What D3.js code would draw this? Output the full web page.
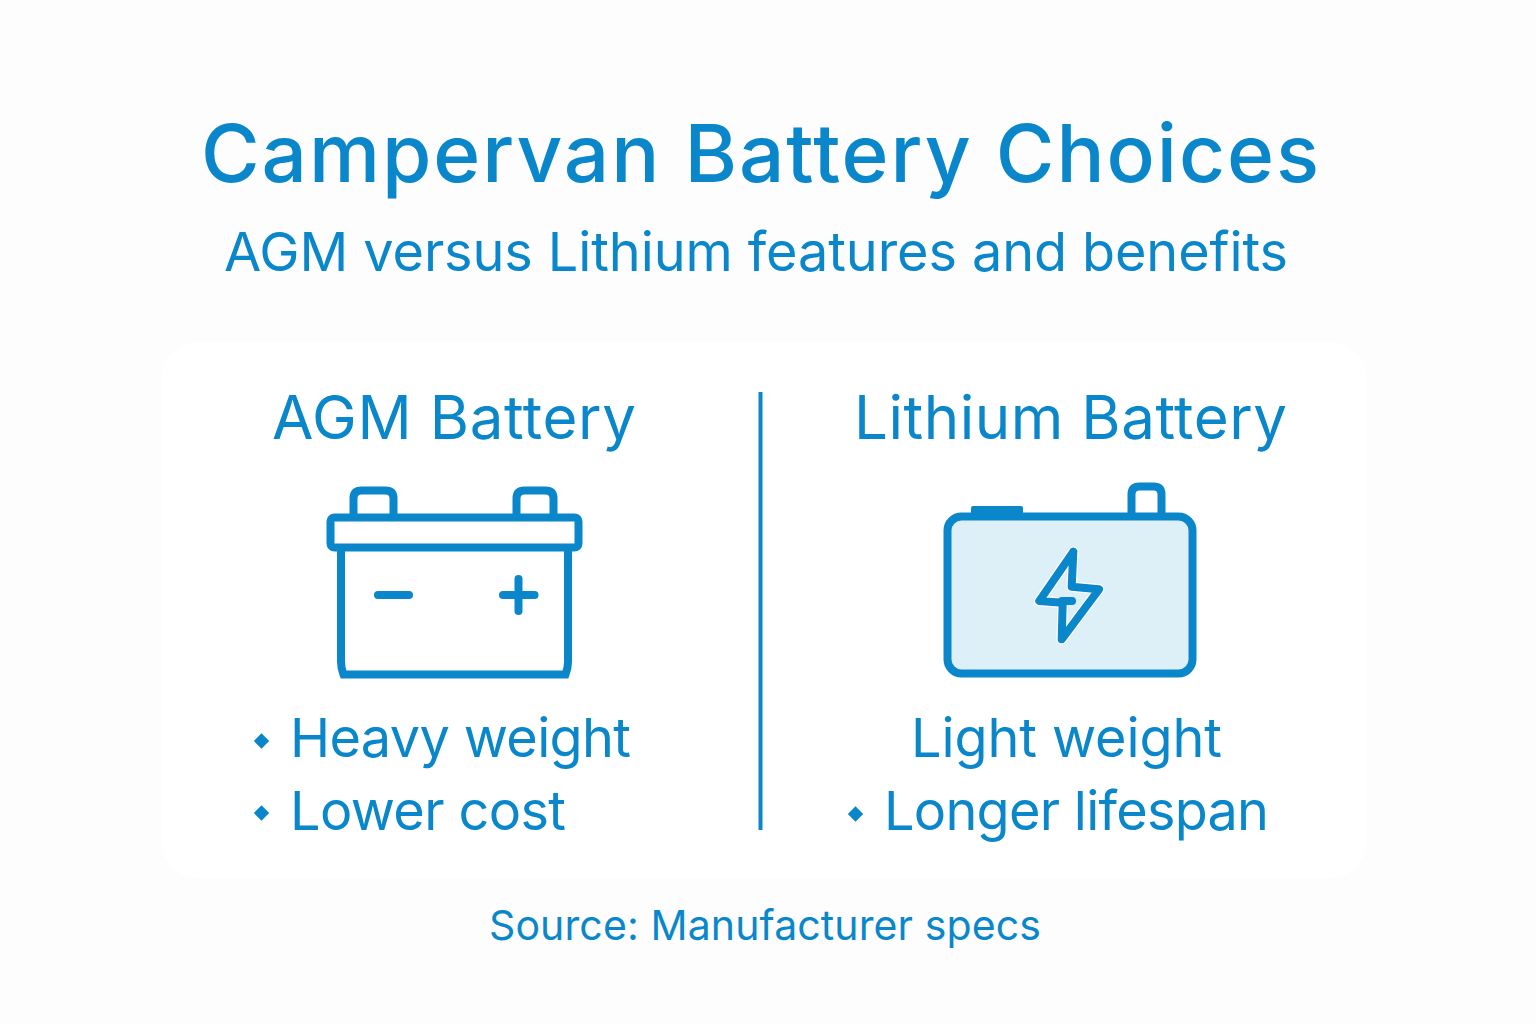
<!DOCTYPE html>
<html>
<head>
<meta charset="utf-8">
<script src="https://cdnjs.cloudflare.com/ajax/libs/d3/7.8.5/d3.min.js"></script>
<style>
html, body { margin: 0; padding: 0; background: #fdfdfd; }
svg { display: block; }
text { font-family: Inter, sans-serif; fill: #0a87ca; }
</style>
</head>
<body>
<div id="chart"></div>
<script>
// content
var titleText = 'Campervan Battery Choices';
var subtitleText = 'AGM versus Lithium features and benefits';
var columnNames = ['AGM Battery', 'Lithium Battery'];
var agmFeatures = ['Heavy weight', 'Lower cost'];
var lithiumFeatures = ['Light weight', 'Longer lifespan'];
var lithiumBullets = [false, true];
var sourceText = 'Source: Manufacturer specs';

var blue = '#0a87ca';
var sw = 8;
var svg = d3.select('#chart').append('svg').attr('width', 1536).attr('height', 1024);
var line = d3.line();

function rect(g, x0, y0, x1, y1, r, fill) {
  return g.append('rect').attr('x', x0).attr('y', y0)
    .attr('width', x1 - x0).attr('height', y1 - y0).attr('rx', r)
    .attr('fill', fill || 'none').attr('stroke', blue).attr('stroke-width', sw);
}

function stroke(g, pts) {
  return g.append('path').attr('d', line(pts)).attr('fill', 'none')
    .attr('stroke', blue).attr('stroke-width', sw)
    .attr('stroke-linecap', 'round').attr('stroke-linejoin', 'round');
}

// battery post: open at the bottom, rounded on top
function post(g, x0, x1, top, bottom) {
  var r = 8;
  var d = 'M' + x0 + ',' + bottom + ' V' + (top + r) + ' Q' + x0 + ',' + top + ' ' + (x0 + r) + ',' + top +
    ' H' + (x1 - r) + ' Q' + x1 + ',' + top + ' ' + x1 + ',' + (top + r) + ' V' + bottom;
  g.append('path').attr('d', d).attr('fill', 'none').attr('stroke', blue).attr('stroke-width', sw);
}

// wd = width the text takes in the reference, squeezed with letter spacing
function label(t, x, y, size, weight, wd) {
  var el = svg.append('text').text(t).attr('x', x).attr('y', y)
    .attr('font-size', size).attr('font-weight', weight || 400);
  var len = el.node().getComputedTextLength();
  el.attr('letter-spacing', (wd - len) / (t.length - 1));
  return el;
}

function bullet(cx, cy) {
  svg.append('path').attr('d', d3.symbol(d3.symbolSquare, 118)())
    .attr('transform', 'translate(' + cx + ',' + cy + ') rotate(45)')
    .attr('fill', blue);
}

// card + divider
svg.append('rect').attr('x', 162).attr('y', 342).attr('width', 1204).attr('height', 536)
  .attr('rx', 36).attr('fill', '#ffffff');
svg.append('line').attr('x1', 760.5).attr('x2', 760.5).attr('y1', 392).attr('y2', 830)
  .attr('stroke', blue).attr('stroke-width', 4);

// titles
label(titleText, 201, 182, 80, 550, 1118);
label(subtitleText, 224, 271, 54, 400, 1064);
label(columnNames[0], 272, 439, 60, 400, 364);
label(columnNames[1], 854, 439, 60, 400, 433);

// AGM icon
var agm = svg.append('g');
post(agm, 353.5, 393.5, 490.5, 517);
post(agm, 516.5, 553.5, 490.5, 517);
rect(agm, 330.5, 517.5, 578.5, 547.5, 4);
agm.append('path').attr('d', 'M341,548 V662 Q341,668 343.5,674.5 H565.5 Q568,668 568,662 V548')
  .attr('fill', 'none').attr('stroke', blue).attr('stroke-width', sw);
stroke(agm, [[378, 595], [409, 595]]);
stroke(agm, [[503, 595], [534.5, 595]]);
stroke(agm, [[518.5, 579], [518.5, 611]]);

// lithium icon
var lit = svg.append('g');
lit.append('rect').attr('x', 971).attr('y', 506).attr('width', 52).attr('height', 12).attr('rx', 2).attr('fill', blue);
post(lit, 1131.5, 1161.5, 486.5, 516);
rect(lit, 947.5, 516.5, 1192.5, 673.5, 14, '#ddeff7');
var boltPts = [[1073.3, 551.7], [1039.3, 601], [1062.7, 602.7], [1061.7, 639.3], [1099, 589.3], [1071.7, 586.7], [1073.3, 551.7]];
stroke(lit, boltPts).attr('stroke', '#ffffff').attr('stroke-width', 10.5);
stroke(lit, boltPts);
stroke(lit, [[1062, 601], [1072, 601]]);

// feature lists
agmFeatures.forEach(function (d, i) {
  bullet(261.5, [741, 813][i]);
  label(d, 290, [757, 830][i], 54, 400, [341, 276][i]);
});
lithiumFeatures.forEach(function (d, i) {
  if (lithiumBullets[i]) bullet(855.5, 814);
  label(d, [911, 884][i], [757, 830][i], 54, 400, [311, 385][i]);
});

label(sourceText, 489, 940, 41, 400, 552);
</script>
</body>
</html>
